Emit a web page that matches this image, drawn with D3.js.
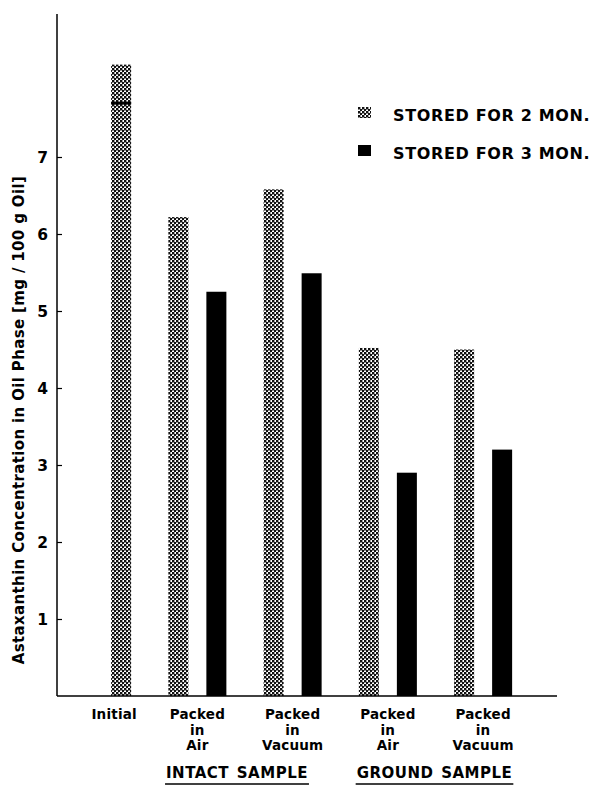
<!DOCTYPE html>
<html>
<head>
<meta charset="utf-8">
<script src="https://cdn.jsdelivr.net/npm/d3@7"></script>
<style>
  html, body { margin: 0; padding: 0; background: #fff; }
  svg { display: block; }
  text { font-family: "DejaVu Sans", "Liberation Sans", Arial, sans-serif; font-weight: bold; fill: #000; }
</style>
</head>
<body>
<svg id="chart" width="592" height="788"></svg>
<script>
// ---- data ----
const groups = ["initial", "intactAir", "intactVacuum", "groundAir", "groundVacuum"];
const groupLabels = [["Initial"], ["Packed", "in", "Air"], ["Packed", "in", "Vacuum"], ["Packed", "in", "Air"], ["Packed", "in", "Vacuum"]];
const series = ["STORED FOR 2 MON.", "STORED FOR 3 MON."];
const initialValue = 8.2;
const initialMark = 7.7;
const stored2Mon = [null, 6.22, 6.58, 4.52, 4.50];
const stored3Mon = [null, 5.25, 5.49, 2.90, 3.20];
const yTicks = [1, 2, 3, 4, 5, 6, 7];
const sampleLabels = ["INTACT SAMPLE", "GROUND SAMPLE"];
const sampleGroups = [["intactAir", "intactVacuum"], ["groundAir", "groundVacuum"]];
const yTitle = "Astaxanthin  Concentration in Oil Phase [mg / 100 g Oil]";

// ---- layout ----
const svg = d3.select("#chart");
const axisX = 57, axisTop = 14, axisRight = 557;
const sampleShift = [-8, -1];

const y = d3.scaleLinear().domain([0, 7]).range([696, 157]);
const x = d3.scaleBand().domain(groups).range([54.5, 530.75]).padding(0);
const sub = d3.scalePoint().domain(series).range([x.bandwidth() / 2 - 19, x.bandwidth() / 2 + 19]);
const barW = 20;

// pattern
const defs = svg.append("defs");
const pat = defs.append("pattern").attr("id", "dots").attr("patternUnits", "userSpaceOnUse")
  .attr("width", 4).attr("height", 4);
pat.append("rect").attr("width", 4).attr("height", 4).attr("fill", "#fff");
pat.append("rect").attr("x", 0).attr("y", 0).attr("width", 2.4).attr("height", 2.4).attr("fill", "#111");
pat.append("rect").attr("x", 2).attr("y", 2).attr("width", 2.4).attr("height", 2.4).attr("fill", "#111");
pat.append("rect").attr("x", 0).attr("y", 2).attr("width", 0.6).attr("height", 0.6).attr("fill", "#444");

const fills = { [series[0]]: "url(#dots)", [series[1]]: "#000" };

// bars
const barData = [];
groups.forEach((g, i) => {
  if (g === "initial") {
    barData.push({ g, s: series[1], v: initialValue, fill: fills[series[0]] });
  } else {
    barData.push({ g, s: series[0], v: stored2Mon[i], fill: fills[series[0]] });
    barData.push({ g, s: series[1], v: stored3Mon[i], fill: fills[series[1]] });
  }
});
svg.append("g").selectAll("rect").data(barData).join("rect")
  .attr("x", d => x(d.g) + sub(d.s) - barW / 2)
  .attr("y", d => y(d.v))
  .attr("width", barW)
  .attr("height", d => y(0) - y(d.v))
  .attr("fill", d => d.fill);

// initial mark line
svg.append("rect")
  .attr("x", x("initial") + sub(series[1]) - barW / 2)
  .attr("width", barW)
  .attr("y", y(initialMark) - 1.5).attr("height", 3)
  .attr("fill", "#000");

// y axis
const yAxis = d3.axisRight(y).tickValues(yTicks).tickSize(5).tickFormat("");
const ya = svg.append("g").attr("transform", `translate(${axisX},0)`).call(yAxis);
ya.select(".domain").remove();
ya.selectAll(".tick line").attr("stroke", "#000").attr("stroke-width", 1.2);
svg.append("line").attr("x1", axisX).attr("x2", axisX).attr("y1", axisTop).attr("y2", y(0))
  .attr("stroke", "#000").attr("stroke-width", 1.5);
svg.append("g").selectAll("text").data(yTicks).join("text")
  .attr("x", 48).attr("y", d => y(d) + 5.5)
  .attr("text-anchor", "end").attr("font-size", 15.5).text(d => d);

// x axis baseline
svg.append("line").attr("x1", axisX).attr("x2", axisRight).attr("y1", y(0)).attr("y2", y(0))
  .attr("stroke", "#000").attr("stroke-width", 1.5);

// y title
svg.append("text")
  .attr("transform", `translate(24,${420}) rotate(-90)`)
  .attr("text-anchor", "middle").attr("font-size", 15).attr("letter-spacing", 0.35)
  .text(yTitle);

// category labels
const labelX = (g, i) => g === "initial" ? x(g) + sub(series[1]) - 7 : x(g) + x.bandwidth() / 2;
groups.forEach((g, i) => {
  const t = svg.append("text").attr("text-anchor", "middle").attr("font-size", 13.5).attr("letter-spacing", 0.2);
  groupLabels[i].forEach((line, k) => {
    t.append("tspan").attr("x", labelX(g, i)).attr("y", 719 + k * 15.5).text(line);
  });
});

// sample labels with underline
sampleLabels.forEach((lab, i) => {
  const gs = sampleGroups[i];
  const cx = (x(gs[0]) + x(gs[1]) + x.bandwidth()) / 2 + sampleShift[i];
  const t = svg.append("text").attr("x", cx).attr("y", 778).attr("text-anchor", "middle")
    .attr("font-size", 15).attr("letter-spacing", 0.5).attr("word-spacing", 2).text(lab);
  const w = t.node().getComputedTextLength();
  svg.append("line").attr("x1", cx - w / 2 - 1).attr("x2", cx + w / 2 + 1)
    .attr("y1", 784).attr("y2", 784).attr("stroke", "#000").attr("stroke-width", 1.5);
});

// legend
const legend = svg.append("g").selectAll("g").data(series).join("g")
  .attr("transform", (d, i) => `translate(358,${107 + i * 38})`);
legend.append("rect").attr("width", 13).attr("height", 11).attr("fill", d => fills[d]);
legend.append("text").attr("x", 35).attr("y", 13.5).attr("font-size", 16)
  .attr("letter-spacing", 0.65).text(d => d);
</script>
</body>
</html>
